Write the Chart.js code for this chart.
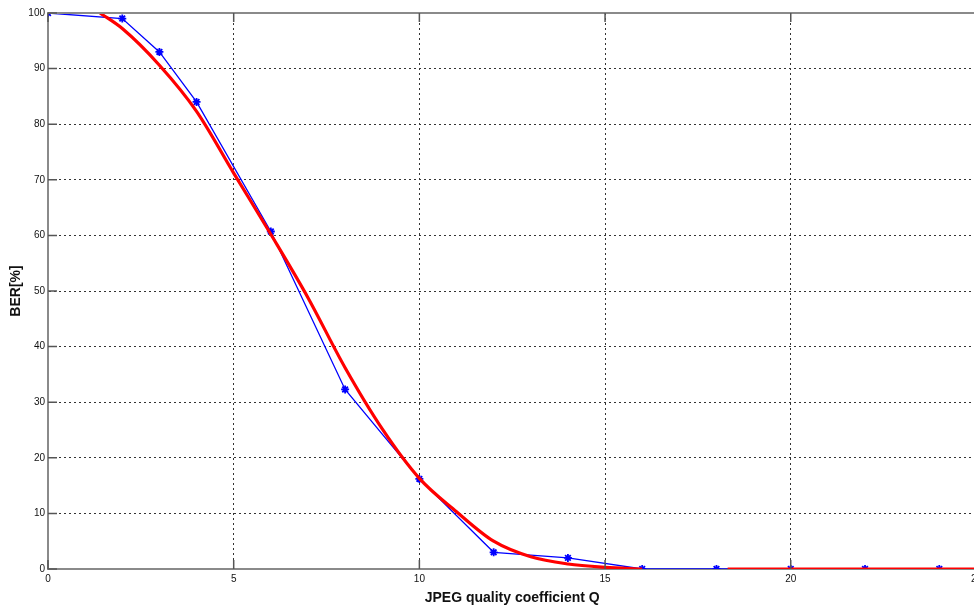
<!DOCTYPE html>
<html>
<head>
<meta charset="utf-8">
<script src="https://cdn.jsdelivr.net/npm/chart.js@4.4.0/dist/chart.umd.min.js"></script>
<style>
  html, body { margin: 0; padding: 0; background: #fff; overflow: hidden; }
  #wrap { width: 986px; height: 609px; }
</style>
</head>
<body>
<div id="wrap"><canvas id="ber"></canvas></div>
<script>
// measured BER points (blue, with markers)
const measQ   = [0, 2, 3, 4, 6, 8, 10, 12, 14, 16, 18, 20, 22, 24];
const measBER = [100, 99, 93, 84, 60.7, 32.3, 16.2, 3, 2, 0, 0, 0, 0, 0];

// fitted curve (red), null leaves the short gap seen near Q=17
const fitQ   = [1.4, 2, 3, 4, 5, 6, 7, 8, 9, 10, 11, 12, 13, 14, 15, 16, 17, 18.3, 25];
const fitBER = [100, 97.2, 90.6, 82.3, 71.2, 60.2, 48.8, 36.2, 25.2, 16.3, 10.3, 5.0, 2.2, 0.9, 0.3, 0, null, 0, 0];

const xTicks = [0, 5, 10, 15, 20, 25];

function pts(xs, ys) {
  return xs.map((x, i) => ({ x: x, y: ys[i] }));
}

// MATLAB style box: top border line + inward tick marks
const boxPlugin = {
  id: 'box',
  afterDraw(chart) {
    const ctx = chart.ctx;
    const a = chart.chartArea;
    const xs = chart.scales.x, ys = chart.scales.y;
    ctx.save();
    ctx.strokeStyle = '#8a8a8a';
    ctx.lineWidth = 2;
    ctx.beginPath();
    ctx.moveTo(a.left, a.top);
    ctx.lineTo(a.right, a.top);
    ctx.stroke();
    ctx.lineWidth = 1.5;
    ctx.strokeStyle = '#555';
    ctx.beginPath();
    xTicks.forEach(v => {
      const px = xs.getPixelForValue(v);
      ctx.moveTo(px, a.bottom); ctx.lineTo(px, a.bottom - 9);
      ctx.moveTo(px, a.top); ctx.lineTo(px, a.top + 9);
    });
    for (let v = 0; v <= 100; v += 10) {
      const py = ys.getPixelForValue(v);
      ctx.moveTo(a.left, py); ctx.lineTo(a.left + 9, py);
    }
    ctx.stroke();
    ctx.restore();
  }
};

new Chart(document.getElementById('ber'), {
  type: 'scatter',
  data: {
    datasets: [
      {
        label: 'fit',
        data: pts(fitQ, fitBER),
        showLine: true,
        borderColor: '#ff0000',
        borderWidth: 3.2,
        pointRadius: 0,
        cubicInterpolationMode: 'monotone',
        spanGaps: false,
        order: 1
      },
      {
        label: 'measured',
        data: pts(measQ, measBER),
        showLine: true,
        borderColor: '#0000ff',
        backgroundColor: '#0000ff',
        borderWidth: 1.3,
        pointStyle: 'star',
        pointRadius: 4,
        pointBorderWidth: 1.8,
        pointBorderColor: '#0000ff',
        order: 2
      }
    ]
  },
  options: {
    responsive: true,
    maintainAspectRatio: false,
    animation: false,
    layout: { padding: { top: 13, right: 0, left: 0, bottom: 0 } },
    plugins: { legend: { display: false }, tooltip: { enabled: false } },
    scales: {
      x: {
        type: 'linear',
        min: 0, max: 25,
        afterBuildTicks: s => { s.ticks = xTicks.map(v => ({ value: v })); },
        ticks: { color: '#111', font: { family: 'Liberation Sans', size: 10 }, padding: 4, maxRotation: 0 },
        grid: { color: '#333', lineWidth: 1, drawTicks: false },
        border: { color: '#8a8a8a', width: 2, dash: [2, 3] },
        title: {
          display: true, text: 'JPEG quality coefficient Q', color: '#111',
          font: { family: 'Liberation Sans', size: 14, weight: 'bold' }, padding: { top: 1, bottom: 2 }
        },
        afterFit: s => { s.height = 40; }
      },
      y: {
        min: 0, max: 100,
        ticks: { stepSize: 10, color: '#111', font: { family: 'Liberation Sans', size: 10 }, padding: 3 },
        grid: { color: '#333', lineWidth: 1, drawTicks: false },
        border: { color: '#8a8a8a', width: 2, dash: [2, 3] },
        title: {
          display: true, text: 'BER[%]', color: '#111',
          font: { family: 'Liberation Sans', size: 14, weight: 'bold' }, padding: { top: 8, bottom: 0 }
        },
        afterFit: s => { s.width = 48; }
      }
    }
  },
  plugins: [boxPlugin]
});
</script>
</body>
</html>
